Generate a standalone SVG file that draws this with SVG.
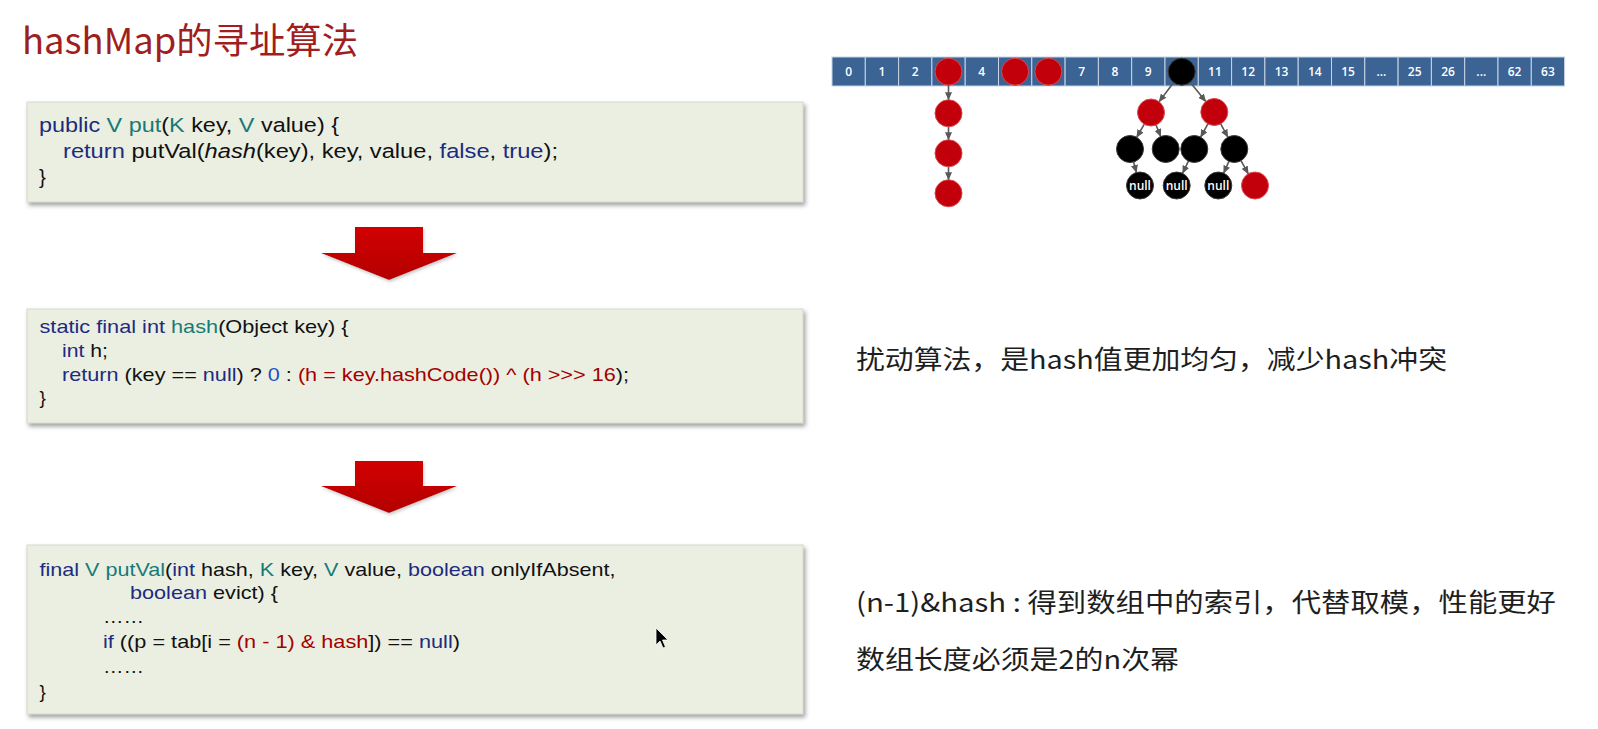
<svg xmlns="http://www.w3.org/2000/svg" width="1598" height="729" viewBox="0 0 1598 729">
<style>
.code{font-family:"Liberation Sans",Arial,sans-serif;fill:#111}
.b1{font-size:20.5px}
.b2{font-size:19px}
.kw{fill:#1d2b80}
.ty{fill:#177a78}
.rd{fill:#a30000}
.nm{fill:#1f4fc4}
.cn{font-family:"Noto Sans CJK SC","Noto Sans",sans-serif}
.cell{fill:#3b6394;stroke:#c8d4e3;stroke-width:1}
.cl{font-family:"Open Sans","Liberation Sans",sans-serif;font-weight:600;font-size:12px;fill:#fff;text-anchor:middle}
.red{fill:#c2000c;stroke:#d9494f;stroke-width:1}
.blk{fill:#000;stroke:#3a3a3a;stroke-width:1}
.edge{stroke:#595959;stroke-width:1.6;fill:none;marker-end:url(#ah)}
.box{fill:#ebefe1;stroke:#d6dacb;stroke-width:1;filter:url(#sh)}
.big{fill:url(#rg);filter:url(#sh2)}
</style>
<defs>
<marker id="ah" markerUnits="userSpaceOnUse" markerWidth="8" markerHeight="7" refX="7.5" refY="3.5" orient="auto">
<path d="M0,0 L8,3.5 L0,7 z" fill="#595959"/>
</marker>
<filter id="sh" x="-5%" y="-10%" width="110%" height="130%">
<feDropShadow dx="2" dy="3" stdDeviation="2" flood-color="#7a7a7a" flood-opacity="0.7"/>
</filter>
<filter id="sh2" x="-10%" y="-10%" width="120%" height="130%">
<feDropShadow dx="1" dy="2" stdDeviation="1.5" flood-color="#999" flood-opacity="0.5"/>
</filter>
<linearGradient id="rg" x1="0" y1="0" x2="0" y2="1">
<stop offset="0" stop-color="#d20000"/>
<stop offset="1" stop-color="#b30000"/>
</linearGradient>
</defs>
<rect width="1598" height="729" fill="#fff"/>

<g id="title">
<text class="cn" x="22" y="54" font-size="36" fill="#a01e1e" textLength="336" lengthAdjust="spacingAndGlyphs">hashMap的寻址算法</text>
</g>

<g id="box-put">
<rect class="box" x="27" y="102" width="776" height="100"/>
<text class="code b1" x="39" y="132" textLength="300" lengthAdjust="spacingAndGlyphs"><tspan class="kw">public</tspan> <tspan class="ty">V put</tspan>(<tspan class="ty">K</tspan> key, <tspan class="ty">V</tspan> value) {</text>
<text class="code b1" x="63" y="158" textLength="495" lengthAdjust="spacingAndGlyphs"><tspan class="kw">return</tspan> putVal(<tspan font-style="italic">hash</tspan>(key), key, value, <tspan class="kw">false</tspan>, <tspan class="kw">true</tspan>);</text>
<text class="code b1" x="39" y="184">}</text>
</g>

<g id="box-hash">
<rect class="box" x="27" y="309" width="776" height="114"/>
<text class="code b2" x="39.5" y="333" textLength="309" lengthAdjust="spacingAndGlyphs"><tspan class="kw">static final int</tspan> <tspan class="ty">hash</tspan>(Object key) {</text>
<text class="code b2" x="62" y="357" textLength="46" lengthAdjust="spacingAndGlyphs"><tspan class="kw">int</tspan> h;</text>
<text class="code b2" x="62" y="381" textLength="567" lengthAdjust="spacingAndGlyphs"><tspan class="kw">return</tspan> (key == <tspan class="kw">null</tspan>) ? <tspan class="nm">0</tspan> : <tspan class="rd">(h = key.hashCode()) ^ (h &gt;&gt;&gt; 16</tspan>);</text>
<text class="code b2" x="39.5" y="404">}</text>
</g>

<g id="box-putval">
<rect class="box" x="27" y="545" width="776" height="169"/>
<text class="code b2" x="39.5" y="576" textLength="576" lengthAdjust="spacingAndGlyphs"><tspan class="kw">final</tspan> <tspan class="ty">V putVal</tspan>(<tspan class="kw">int</tspan> hash, <tspan class="ty">K</tspan> key, <tspan class="ty">V</tspan> value, <tspan class="kw">boolean</tspan> onlyIfAbsent,</text>
<text class="code b2" x="130" y="599" textLength="148" lengthAdjust="spacingAndGlyphs"><tspan class="kw">boolean</tspan> evict) {</text>
<text class="code b2" x="103" y="623" textLength="41" lengthAdjust="spacingAndGlyphs">……</text>
<text class="code b2" x="103" y="648" textLength="357" lengthAdjust="spacingAndGlyphs"><tspan class="kw">if</tspan> ((p = tab[i = <tspan class="rd">(n - 1) &amp; hash</tspan>]) == <tspan class="kw">null</tspan>)</text>
<text class="code b2" x="103" y="673" textLength="41" lengthAdjust="spacingAndGlyphs">……</text>
<text class="code b2" x="39.5" y="698">}</text>
</g>

<g id="arrow1">
<polygon class="big" points="355,227 423,227 423,253 457,253 389,280 321,253 355,253"/>
</g>
<g id="arrow2">
<polygon class="big" points="355,461 423,461 423,486 457,486 389,513 321,486 355,486"/>
</g>

<g id="array">
<rect class="cell" x="832" y="57" width="33.3" height="29"/>
<rect class="cell" x="865.3" y="57" width="33.3" height="29"/>
<rect class="cell" x="898.6" y="57" width="33.3" height="29"/>
<rect class="cell" x="931.9" y="57" width="33.3" height="29"/>
<rect class="cell" x="965.2" y="57" width="33.3" height="29"/>
<rect class="cell" x="998.5" y="57" width="33.3" height="29"/>
<rect class="cell" x="1031.8" y="57" width="33.3" height="29"/>
<rect class="cell" x="1065.1" y="57" width="33.3" height="29"/>
<rect class="cell" x="1098.4" y="57" width="33.3" height="29"/>
<rect class="cell" x="1131.7" y="57" width="33.3" height="29"/>
<rect class="cell" x="1165" y="57" width="33.3" height="29"/>
<rect class="cell" x="1198.3" y="57" width="33.3" height="29"/>
<rect class="cell" x="1231.6" y="57" width="33.3" height="29"/>
<rect class="cell" x="1264.9" y="57" width="33.3" height="29"/>
<rect class="cell" x="1298.2" y="57" width="33.3" height="29"/>
<rect class="cell" x="1331.5" y="57" width="33.3" height="29"/>
<rect class="cell" x="1364.8" y="57" width="33.3" height="29"/>
<rect class="cell" x="1398.1" y="57" width="33.3" height="29"/>
<rect class="cell" x="1431.4" y="57" width="33.3" height="29"/>
<rect class="cell" x="1464.7" y="57" width="33.3" height="29"/>
<rect class="cell" x="1498" y="57" width="33.3" height="29"/>
<rect class="cell" x="1531.3" y="57" width="33.3" height="29"/>
<text class="cl" x="848.6" y="76">0</text>
<text class="cl" x="881.9" y="76">1</text>
<text class="cl" x="915.2" y="76">2</text>
<text class="cl" x="981.8" y="76">4</text>
<text class="cl" x="1081.7" y="76">7</text>
<text class="cl" x="1115" y="76">8</text>
<text class="cl" x="1148.3" y="76">9</text>
<text class="cl" x="1214.9" y="76">11</text>
<text class="cl" x="1248.2" y="76">12</text>
<text class="cl" x="1281.5" y="76">13</text>
<text class="cl" x="1314.8" y="76">14</text>
<text class="cl" x="1348.1" y="76">15</text>
<text class="cl" x="1381.4" y="76">...</text>
<text class="cl" x="1414.7" y="76">25</text>
<text class="cl" x="1448" y="76">26</text>
<text class="cl" x="1481.3" y="76">...</text>
<text class="cl" x="1514.6" y="76">62</text>
<text class="cl" x="1547.9" y="76">63</text>
</g>

<g id="connectors">
<line class="edge" x1="948.5" y1="85.2" x2="948.5" y2="99.8"/>
<line class="edge" x1="948.5" y1="126.8" x2="948.5" y2="139.8"/>
<line class="edge" x1="948.5" y1="166.8" x2="948.5" y2="179.8"/>
<line class="edge" x1="1173.6" y1="82.5" x2="1159.1" y2="101.7"/>
<line class="edge" x1="1190.2" y1="82.2" x2="1205.8" y2="101.5"/>
<line class="edge" x1="1144.3" y1="124.2" x2="1136.7" y2="137.3"/>
<line class="edge" x1="1156" y1="125" x2="1160.7" y2="136.5"/>
<line class="edge" x1="1207.9" y1="123.9" x2="1200.7" y2="137.1"/>
<line class="edge" x1="1220.7" y1="123.9" x2="1227.9" y2="137.1"/>
<line class="edge" x1="1133.6" y1="162" x2="1136.4" y2="172.5"/>
<line class="edge" x1="1188.4" y1="161.2" x2="1182.6" y2="173.3"/>
<line class="edge" x1="1228.9" y1="161.4" x2="1223.7" y2="173.1"/>
<line class="edge" x1="1241" y1="160.7" x2="1248.3" y2="173.8"/>
</g>

<g id="chain">
<circle class="red" cx="948.5" cy="71.7" r="13.5"/>
<circle class="red" cx="948.5" cy="113.3" r="13.5"/>
<circle class="red" cx="948.5" cy="153.3" r="13.5"/>
<circle class="red" cx="948.5" cy="193.3" r="13.5"/>
</g>
<g id="slot5"><circle class="red" cx="1015.1" cy="71.7" r="13.5"/></g>
<g id="slot6"><circle class="red" cx="1048.4" cy="71.7" r="13.5"/></g>

<g id="tree">
<circle class="blk" cx="1181.7" cy="71.7" r="13.5"/>
<circle class="red" cx="1151" cy="112.5" r="13.5"/>
<circle class="red" cx="1214.3" cy="112" r="13.5"/>
<circle class="blk" cx="1130" cy="149" r="13.5"/>
<circle class="blk" cx="1165.7" cy="149" r="13.5"/>
<circle class="blk" cx="1194.3" cy="149" r="13.5"/>
<circle class="blk" cx="1234.3" cy="149" r="13.5"/>
<circle class="blk" cx="1140" cy="185.5" r="13.5"/>
<circle class="blk" cx="1176.7" cy="185.5" r="13.5"/>
<circle class="blk" cx="1218.3" cy="185.5" r="13.5"/>
<circle class="red" cx="1255" cy="185.5" r="13.5"/>
<text class="cl" x="1140" y="190">null</text>
<text class="cl" x="1176.7" y="190">null</text>
<text class="cl" x="1218.3" y="190">null</text>
</g>

<g id="note1">
<text class="cn" x="856" y="369" font-size="26" fill="#1e1e1e" textLength="591" lengthAdjust="spacingAndGlyphs">扰动算法，是hash值更加均匀，减少hash冲突</text>
</g>
<g id="note2">
<text class="cn" x="856" y="612" font-size="26" fill="#1e1e1e" textLength="700" lengthAdjust="spacingAndGlyphs">(n-1)&amp;hash : 得到数组中的索引，代替取模，性能更好</text>
</g>
<g id="note3">
<text class="cn" x="856" y="669" font-size="26" fill="#1e1e1e" textLength="323" lengthAdjust="spacingAndGlyphs">数组长度必须是2的n次幂</text>
</g>

<g id="cursor">
<polygon points="656,628 656,645 660,641 663,648 665.5,647 662.5,640 668,640" fill="#000" stroke="#fff" stroke-width="0.8"/>
</g>
</svg>
